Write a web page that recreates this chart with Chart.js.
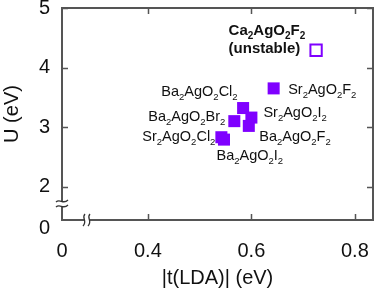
<!DOCTYPE html>
<html>
<head>
<meta charset="utf-8">
<script src="https://cdn.jsdelivr.net/npm/chart.js@4.4.1/dist/chart.umd.min.js"></script>
<style>
  html, body { margin: 0; padding: 0; background: #fff; }
  canvas { display: block; }
</style>
</head>
<body>
<canvas id="chart" width="374" height="291"></canvas>
<script>
// === Daten ===
const xTicks = [0.4, 0.6, 0.8];
const yTicks = [2, 3, 4, 5];
const xMin = 0.234;   // linker Rand nach dem Achsenbruch (Label "0")
const xMax = 0.835;
const yMin = 1.44;    // unterer Rand nach dem Achsenbruch
const yMax = 5;
const yZeroTick = 1.3; // Label "0" unter dem Bruch

const stableNames = ["Sr_2AgO_2F_2", "Ba_2AgO_2Cl_2", "Sr_2AgO_2I_2", "Ba_2AgO_2Br_2",
                     "Ba_2AgO_2F_2", "Sr_2AgO_2Cl_2", "Ba_2AgO_2I_2"];
const stableT = [0.643, 0.584, 0.600, 0.567, 0.595, 0.542, 0.547];
const stableU = [3.65, 3.32, 3.16, 3.10, 3.02, 2.83, 2.79];

const unstableNames = ["Ca_2AgO_2F_2"];
const unstableT = [0.725];
const unstableU = [4.29];

// === Stil ===
const PURPLE = "#7f00ff";
const AXIS = "#555";
const FONT = "'Liberation Sans', Arial, sans-serif";

// Label-Versatz relativ zum Punkt (px): [dx, dy(baseline), align]
const labelOffsets = {
  "Sr_2AgO_2F_2": [14.5, 5.5, "left"],
  "Ba_2AgO_2Cl_2": [-5.5, -12, "right"],
  "Sr_2AgO_2I_2": [12, -0.5, "left"],
  "Ba_2AgO_2Br_2": [-9, 0, "right"],
  "Ba_2AgO_2F_2": [10.5, 15, "left"],
  "Sr_2AgO_2Cl_2": [-6, 4, "right"],
  "Ba_2AgO_2I_2": [-7.5, 20.5, "left"],
  "Ca_2AgO_2F_2": [-87.5, -15.5, "left"],
};

// Formel mit tiefgestellten Zahlen zeichnen ("_2" -> Index)
function drawFormula(ctx, text, x, y, align, bold) {
  const parts = text.split(/(_\d)/).filter((p) => p.length);
  const mainFont = bold ? "bold 15px " + FONT : "14.5px " + FONT;
  const subFont = bold ? "bold 10px " + FONT : "9.5px " + FONT;
  let total = 0;
  parts.forEach((p) => {
    ctx.font = p[0] === "_" ? subFont : mainFont;
    total += ctx.measureText(p[0] === "_" ? p.slice(1) : p).width;
  });
  let cx = align === "right" ? x - total : x;
  ctx.textAlign = "left";
  ctx.textBaseline = "alphabetic";
  parts.forEach((p) => {
    if (p[0] === "_") {
      ctx.font = subFont;
      ctx.fillText(p.slice(1), cx, y + 4);
      cx += ctx.measureText(p.slice(1)).width;
    } else {
      ctx.font = mainFont;
      ctx.fillText(p, cx, y);
      cx += ctx.measureText(p).width;
    }
  });
}

const labelPlugin = {
  id: "labels",
  afterDatasetsDraw(chart) {
    const ctx = chart.ctx;
    const xs = chart.scales.x;
    const ys = chart.scales.y;
    ctx.save();
    ctx.fillStyle = "#111";
    stableNames.forEach((name, i) => {
      const [dx, dy, align] = labelOffsets[name];
      const px = xs.getPixelForValue(stableT[i]);
      const py = ys.getPixelForValue(stableU[i]);
      drawFormula(ctx, name, px + dx, py + dy, align, false);
    });
    unstableNames.forEach((name, i) => {
      const [dx, dy, align] = labelOffsets[name];
      const px = xs.getPixelForValue(unstableT[i]);
      const py = ys.getPixelForValue(unstableU[i]);
      drawFormula(ctx, name, px + dx, py + dy, align, true);
      ctx.font = "bold 15px " + FONT;
      ctx.fillText("(unstable)", px + dx, py + dy + 18);
    });
    ctx.restore();
  },
};

// Rahmen, Ticks nach innen, Achsenbrüche
const framePlugin = {
  id: "frame",
  afterDraw(chart) {
    const ctx = chart.ctx;
    const a = chart.chartArea;
    const xs = chart.scales.x;
    const ys = chart.scales.y;
    ctx.save();
    ctx.strokeStyle = AXIS;
    ctx.lineWidth = 2;
    ctx.strokeRect(a.left, a.top, a.right - a.left, a.bottom - a.top);

    ctx.lineWidth = 1.5;
    ctx.beginPath();
    xTicks.forEach((v) => {
      const px = Math.round(xs.getPixelForValue(v)) + 0.5;
      ctx.moveTo(px, a.bottom); ctx.lineTo(px, a.bottom - 6);
      ctx.moveTo(px, a.top); ctx.lineTo(px, a.top + 6);
    });
    yTicks.forEach((v) => {
      const py = Math.round(ys.getPixelForValue(v)) + 0.5;
      ctx.moveTo(a.left, py); ctx.lineTo(a.left + 6, py);
      ctx.moveTo(a.right, py); ctx.lineTo(a.right - 6, py);
    });
    ctx.stroke();

    // Bruch auf der y-Achse
    ctx.fillStyle = "#fff";
    ctx.fillRect(a.left - 2, 201, 5, 6);
    ctx.lineWidth = 1.3;
    ctx.strokeStyle = "#333";
    [201, 206].forEach((yy) => {
      ctx.beginPath();
      ctx.moveTo(a.left - 6, yy + 1);
      ctx.bezierCurveTo(a.left - 2, yy - 3, a.left + 1, yy + 4, a.left + 6, yy - 1);
      ctx.stroke();
    });
    // Bruch auf der x-Achse
    const bx = a.left + 22;
    ctx.fillRect(bx, a.bottom - 2, 5, 5);
    [bx, bx + 5].forEach((xx) => {
      ctx.beginPath();
      ctx.moveTo(xx + 1, a.bottom - 6);
      ctx.bezierCurveTo(xx - 3, a.bottom - 2, xx + 4, a.bottom + 1, xx - 1, a.bottom + 6);
      ctx.stroke();
    });
    ctx.restore();
  },
};

function noPad(s) {
  s.paddingLeft = 0;
  s.paddingRight = 0;
  s.paddingTop = 0;
  s.paddingBottom = 0;
}

const ctx = document.getElementById("chart").getContext("2d");
new Chart(ctx, {
  type: "scatter",
  data: {
    datasets: [
      {
        label: "stable",
        data: stableT.map((t, i) => ({ x: t, y: stableU[i] })),
        pointStyle: "rect",
        pointRadius: 8.5,
        backgroundColor: PURPLE,
        borderColor: PURPLE,
        borderWidth: 0,
      },
      {
        label: "unstable",
        data: unstableT.map((t, i) => ({ x: t, y: unstableU[i] })),
        pointStyle: "rect",
        pointRadius: 8,
        backgroundColor: "#fff",
        borderColor: PURPLE,
        borderWidth: 2,
      },
    ],
  },
  options: {
    responsive: false,
    animation: false,
    devicePixelRatio: 1,
    layout: { autoPadding: false, padding: { top: 8, right: 1, left: 0, bottom: 0 } },
    plugins: { legend: { display: false }, tooltip: { enabled: false } },
    scales: {
      x: {
        type: "linear",
        min: xMin,
        max: xMax,
        afterBuildTicks: (s) => { s.ticks = [xMin, ...xTicks].map((v) => ({ value: v })); },
        afterFit: (s) => { s.height = 71; noPad(s); },
        grid: { display: false, drawTicks: false },
        border: { display: false },
        ticks: {
          autoSkip: false,
          maxRotation: 0,
          padding: 19,
          color: "#111",
          font: { family: FONT, size: 20 },
          callback: (v) => (v === xMin ? "0" : v.toFixed(1)),
        },
        title: {
          display: true,
          text: "|t(LDA)| (eV)",
          color: "#111",
          font: { family: FONT, size: 20 },
          padding: { top: 4, bottom: 1 },
        },
      },
      y: {
        type: "linear",
        min: yMin,
        max: yMax,
        afterBuildTicks: (s) => { s.ticks = [yZeroTick, ...yTicks].map((v) => ({ value: v })); },
        afterFit: (s) => { s.width = 62; noPad(s); },
        grid: { display: false, drawTicks: false },
        border: { display: false },
        ticks: {
          autoSkip: false,
          padding: 12,
          color: "#111",
          font: { family: FONT, size: 20 },
          callback: (v) => (v === yZeroTick ? "0" : String(v)),
        },
        title: {
          display: true,
          text: "U (eV)",
          color: "#111",
          font: { family: FONT, size: 20 },
          padding: 0,
        },
      },
    },
  },
  plugins: [labelPlugin, framePlugin],
});
</script>
</body>
</html>
